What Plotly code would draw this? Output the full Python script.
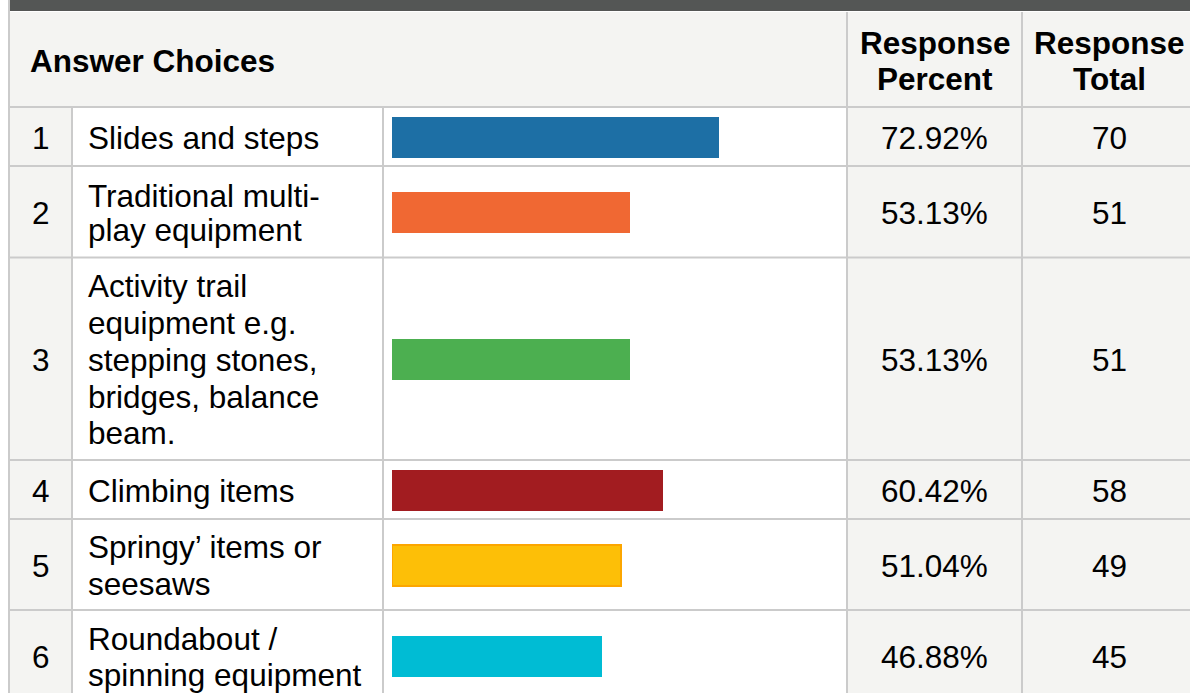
import plotly.graph_objects as go

# ---------------- data ----------------
numbers = ["1", "2", "3", "4", "5", "6"]
choices = [
    ["Slides and steps"],
    ["Traditional multi-", "play equipment"],
    ["Activity trail", "equipment e.g.", "stepping stones,", "bridges, balance", "beam."],
    ["Climbing items"],
    ["Springy\u2019 items or", "seesaws"],
    ["Roundabout /", "spinning equipment"],
]
percent = [72.92, 53.13, 53.13, 60.42, 51.04, 46.88]
totals = [70, 51, 51, 58, 49, 45]
bar_colors = ["#1d6fa5", "#f06833", "#4caf50", "#a21c20", "#fdbf07", "#00bcd4"]
bar_edge_colors = ["#1d6fa5", "#f06833", "#4caf50", "#a21c20", "#fca600", "#00bcd4"]
bar_edge_widths = [0, 0, 0, 0, 2, 0]
headers = ["Answer Choices", "Response<br>Percent", "Response<br>Total"]

# ---------------- layout constants (pixels) ----------------
W, H = 1190, 693
row_edges = [107, 166, 257.5, 460, 519, 610, 702]
line_gaps = [0, 34, 36.8, 0, 36.7, 36]
col_edges = [9, 72, 383, 847, 1022, 1200]
header_top = 12
bar_left, bar_right = 392, 840
FONT = "Liberation Sans, Arial, sans-serif"
FS = 31.5
GRID = "#cbcbcb"
CELL_GREY = "#f4f4f2"

row_centers = [(row_edges[i] + row_edges[i + 1]) / 2 + 0.5 for i in range(len(numbers))]

fig = go.Figure()
fig.add_trace(go.Bar(
    x=percent, y=row_centers, orientation="h", width=41,
    xaxis="x2", yaxis="y",
    marker=dict(color=bar_colors, line=dict(color=bar_edge_colors, width=bar_edge_widths)),
    hoverinfo="skip", showlegend=False,
))

shapes = []
def rect(x0, y0, x1, y1, color):
    shapes.append(dict(type="rect", xref="x", yref="y", x0=x0, x1=x1, y0=y0, y1=y1,
                       fillcolor=color, line=dict(width=0), layer="below"))

def line(x0, y0, x1, y1, width=1.6):
    shapes.append(dict(type="line", xref="x", yref="y", x0=x0, x1=x1, y0=y0, y1=y1,
                       line=dict(color=GRID, width=width), layer="below"))

# dark top band and header background
rect(col_edges[0] + 1, 0, W, header_top - 1, "#545655")
rect(col_edges[0], header_top, W, row_edges[0], CELL_GREY)
# grey columns in body
rect(col_edges[0], row_edges[0], col_edges[1], H, CELL_GREY)
rect(col_edges[3], row_edges[0], W, H, CELL_GREY)
# header vertical lines
line(col_edges[3], header_top, col_edges[3], row_edges[0], 2)
line(col_edges[4], header_top, col_edges[4], row_edges[0], 2)
# left outer border
line(col_edges[0], 0, col_edges[0], H, 2)
# horizontal row lines
for y in row_edges[:-1]:
    line(col_edges[0], y, W, y, 1.8)
# body vertical lines
for x in col_edges[1:5]:
    line(x, row_edges[0], x, H, 2)

annotations = []
def text(x, y, s, anchor="center"):
    annotations.append(dict(
        x=x, y=y, xref="x", yref="y", text=s, showarrow=False,
        xanchor=anchor, yanchor="middle", align=anchor,
        font=dict(family=FONT, size=FS, color="#000000"),
    ))

# header text
text(27.5, 61, "<b>" + headers[0] + "</b>", anchor="left")
for ci, hx in zip([1, 2], [935, 1109]):
    for k, part in enumerate(headers[ci].split("<br>")):
        text(hx, 42.5 + k * 36.5, "<b>" + part + "</b>")

# body text
for i in range(len(numbers)):
    yc = row_centers[i] + 0.5
    text(40.5, yc, numbers[i])
    n = len(choices[i])
    for k, part in enumerate(choices[i]):
        text(85.5, yc + (k - (n - 1) / 2) * line_gaps[i], part, anchor="left")
    text(934.5, yc, f"{percent[i]:.2f}%")
    text(1109.5, yc, str(totals[i]))

fig.update_layout(
    width=W, height=H, margin=dict(l=0, r=0, t=0, b=0),
    paper_bgcolor="white", plot_bgcolor="rgba(0,0,0,0)",
    xaxis=dict(range=[0, W], domain=[0, 1], visible=False, fixedrange=True),
    yaxis=dict(range=[H, 0], domain=[0, 1], visible=False, fixedrange=True),
    xaxis2=dict(range=[0, 100], domain=[bar_left / W, bar_right / W], anchor="y",
                visible=False, fixedrange=True),
    shapes=shapes, annotations=annotations,
    showlegend=False, bargap=0,
)
fig.write_html(
    "out.html",
    config={"displayModeBar": False},
    post_script="document.body.style.margin='0';document.body.style.overflow='hidden';",
)
